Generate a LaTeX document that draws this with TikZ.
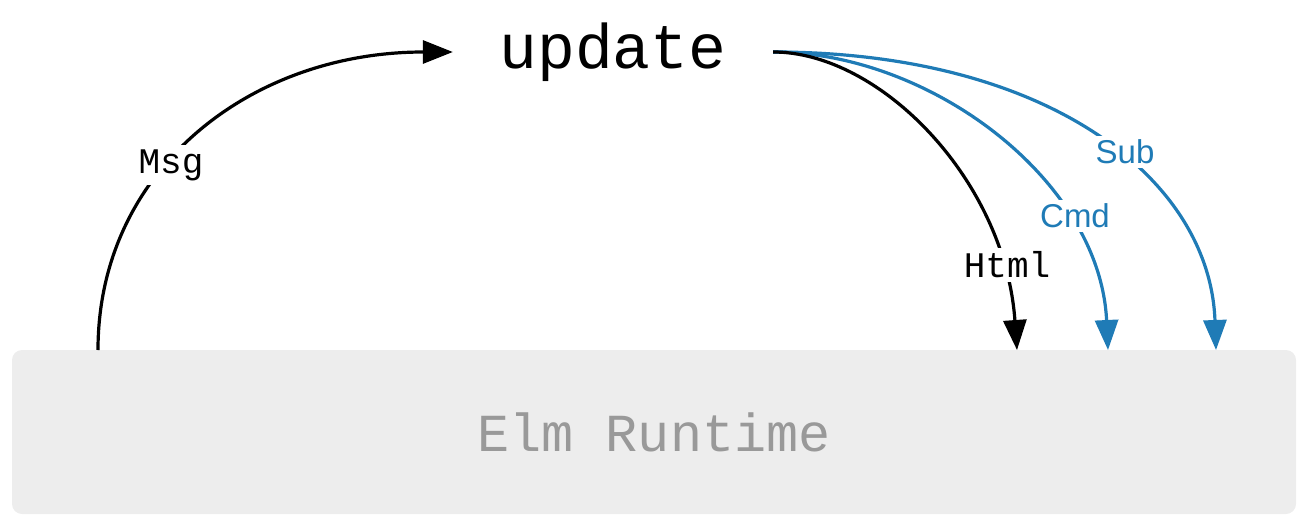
\documentclass[tikz,border=0pt]{standalone}
\usepackage{fontspec}
\setmainfont{Liberation Sans}
\setsansfont{Liberation Sans}
\setmonofont{Liberation Mono}
\usetikzlibrary{arrows.meta}
\definecolor{elmblue}{HTML}{1F7BB6}
\definecolor{boxgray}{HTML}{EDEDED}
\definecolor{txtgray}{HTML}{999999}
\tikzset{
  conn/.style={line width=3.2pt, -{Triangle[length=30pt,width=23pt]}},
  lbl/.style={fill=white, inner sep=4pt, font=\ttfamily\fontsize{36}{36}\selectfont},
  slbl/.style={fill=white, inner sep=4pt, font=\sffamily\fontsize{33}{33}\selectfont, text=elmblue},
}
\begin{document}
\begin{tikzpicture}[x=1pt,y=-1pt]
\useasboundingbox (0,0) rectangle (1306,532);
\node[fill=boxgray, rounded corners=10pt, minimum width=1284pt, minimum height=164pt, inner sep=0pt,
  text=txtgray, font=\ttfamily\fontsize{53.5}{53.5}\selectfont] (rt) at (654,432) {Elm Runtime};
\node[minimum width=320pt, inner sep=0pt, font=\ttfamily\fontsize{63}{63}\selectfont] (upd) at (613,52) {update};
\coordinate (msgstart) at (98,350);
\coordinate (htmlend) at (1017,350);
\coordinate (cmdend) at (1108,350);
\coordinate (subend) at (1216,350);
\draw[conn] (msgstart) .. controls (98,170) and (250,52) .. (upd.west);
\draw[conn, elmblue] (upd.east) .. controls (1050,52) and (1210,180) .. (subend);
\draw[conn, elmblue] (upd.east) .. controls (930,52) and (1100,180) .. (cmdend);
\draw[conn] (upd.east) .. controls (880,52) and (1005,180) .. (htmlend);
\node[lbl] (msg) at (171,165) {Msg};
\node[lbl] (html) at (1007,265) {Html};
\node[slbl] (cmd) at (1075,216) {Cmd};
\node[slbl] (sub) at (1125,152) {Sub};
\end{tikzpicture}
\end{document}
